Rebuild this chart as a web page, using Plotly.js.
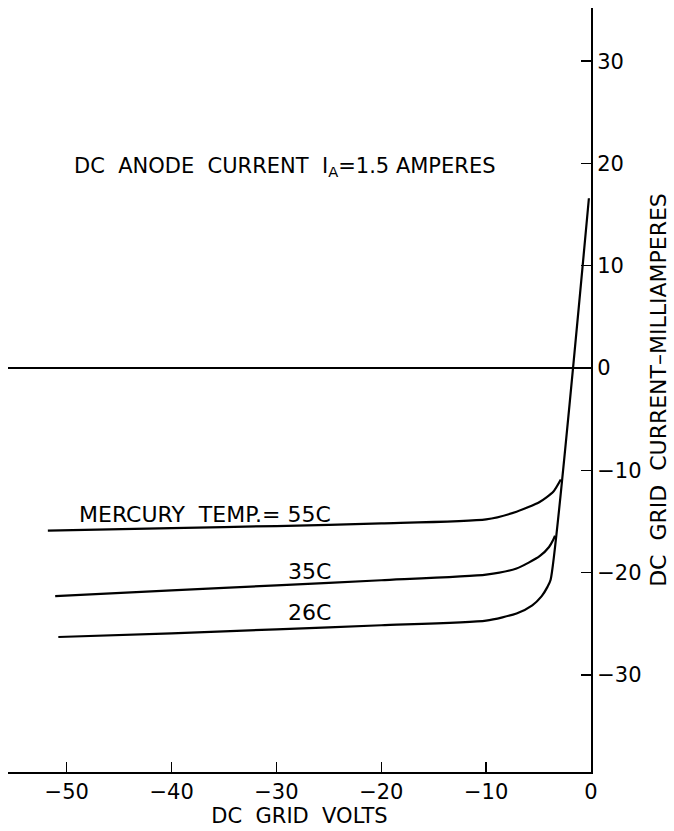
<!DOCTYPE html>
<html>
<head>
<meta charset="utf-8">
<script src="https://cdn.plot.ly/plotly-3.0.1.min.js"></script>
<style>
  html, body { margin: 0; padding: 0; background: #fff; }
  #chart { width: 674px; height: 831px; }
</style>
</head>
<body>
<div id="chart"></div>
<script>
// ---- data ----
const seriesNames = ["26C", "35C", "55C"];

// 26 C curve, including the common steep branch up to the top
const x26 = [-50.8, -40, -30, -20, -10, -7.1, -5.6, -4.7, -4.15, -3.85, -0.2];
const y26 = [-26.3, -25.95, -25.55, -25.15, -24.7, -24.0, -23.2, -22.3, -21.4, -20.7, 16.6];

// 35 C curve, merging into the steep branch
const x35 = [-51.1, -40, -30, -20, -10, -7.1, -4.9, -4.0, -3.6, -3.43];
const y35 = [-22.3, -21.75, -21.25, -20.75, -20.2, -19.6, -18.4, -17.5, -16.8, -16.4];

// 55 C curve, merging into the steep branch
const x55 = [-51.8, -40, -30, -20, -10, -7.1, -4.9, -3.6, -2.88];
const y55 = [-15.9, -15.65, -15.45, -15.2, -14.8, -14.05, -13.1, -12.1, -10.9];

const xTicks = [-50, -40, -30, -20, -10, 0];
const yTicks = [30, 20, 10, 0, -10, -20, -30];

const curveLabels = ["MERCURY&nbsp; TEMP.= 55C", "35C", "26C"];
const headerText = "DC&nbsp; ANODE&nbsp; CURRENT&nbsp; I<sub>A</sub>=1.5 AMPERES";

// ---- drawing ----
const lineStyle = {color: "#000", width: 2.2, shape: "spline", smoothing: 0.6};
const traces = [
  {x: x26, y: y26, name: seriesNames[0], mode: "lines", line: lineStyle, hoverinfo: "skip"},
  {x: x35, y: y35, name: seriesNames[1], mode: "lines", line: lineStyle, hoverinfo: "skip"},
  {x: x55, y: y55, name: seriesNames[2], mode: "lines", line: lineStyle, hoverinfo: "skip"}
];

const FONT = "DejaVu Sans, sans-serif";

const layout = {
  width: 674,
  height: 831,
  margin: {l: 8, r: 83, t: 8, b: 59},
  paper_bgcolor: "#fff",
  plot_bgcolor: "#fff",
  showlegend: false,
  font: {family: FONT, color: "#000", size: 21},
  xaxis: {
    range: [-55.6, 0],
    tickvals: xTicks,
    ticks: "inside",
    ticklen: 10,
    tickwidth: 1.5,
    tickcolor: "#000",
    showline: true,
    linecolor: "#000",
    linewidth: 2,
    showgrid: false,
    zeroline: false,
    tickfont: {family: FONT, size: 21, color: "#000"},
    title: {text: "DC&nbsp; GRID&nbsp; VOLTS", font: {family: FONT, size: 21, color: "#000"}, standoff: 4}
  },
  yaxis: {
    side: "right",
    range: [-39.5, 35.2],
    tickvals: yTicks,
    ticks: "inside",
    ticklen: 10,
    tickwidth: 1.5,
    tickcolor: "#000",
    showline: true,
    linecolor: "#000",
    linewidth: 2,
    showgrid: false,
    zeroline: true,
    zerolinecolor: "#000",
    zerolinewidth: 1.5,
    tickfont: {family: FONT, size: 21, color: "#000"},
    title: {text: "DC&nbsp; GRID&nbsp; CURRENT\u2013MILLIAMPERES", font: {family: FONT, size: 22, color: "#000"}, standoff: 10}
  },
  annotations: [
    {x: -49.5, y: 19.7, xref: "x", yref: "y", text: headerText, showarrow: false,
     xanchor: "left", yanchor: "middle", font: {family: FONT, size: 21, color: "#000"}},
    {x: -24.6, y: -14.3, xref: "x", yref: "y", text: curveLabels[0], showarrow: false,
     xanchor: "right", yanchor: "middle", font: {family: FONT, size: 22, color: "#000"}},
    {x: -24.6, y: -19.9, xref: "x", yref: "y", text: curveLabels[1], showarrow: false,
     xanchor: "right", yanchor: "middle", font: {family: FONT, size: 22, color: "#000"}},
    {x: -24.6, y: -23.9, xref: "x", yref: "y", text: curveLabels[2], showarrow: false,
     xanchor: "right", yanchor: "middle", font: {family: FONT, size: 22, color: "#000"}}
  ]
};

Plotly.newPlot("chart", traces, layout, {displayModeBar: false, staticPlot: true});
</script>
</body>
</html>
